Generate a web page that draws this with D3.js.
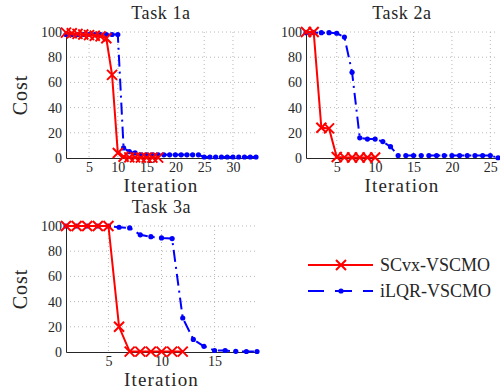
<!DOCTYPE html>
<html>
<head>
<meta charset="utf-8">
<script src="https://cdn.jsdelivr.net/npm/d3@7"></script>
<style>
  body { margin: 0; background: #fff; }
  text { font-family: "Liberation Serif", "Times New Roman", serif; fill: #262626; }
</style>
</head>
<body>
<div id="chart-area"></div>
<script>
// cost per iteration (iteration = index + 1)
const scvx1 = [99.5, 99, 98.5, 98, 97.5, 97, 96.5, 95, 66, 4, 1, 0.5, 0.5, 0.3, 0.3, 0.3, 0.3];
const ilqr1 = [98, 98, 98, 98, 98, 98, 98, 98, 98, 98, 8, 5, 4,
  2.5, 2.5, 2.5, 2.5, 2.5, 2.5, 2.5, 2.5, 2.5, 2.5, 2.5,
  0.8, 0.8, 0.8, 0.8, 0.8, 0.8, 0.8, 0.8, 0.8, 0.8];

const scvx2 = [100, 100, 24, 23.5, 0.8, 0.5, 0.4, 0.4, 0.4, 0.4];
const ilqr2 = [99.5, 99.5, 99.5, 99.5, 99, 96, 68, 16, 15, 15, 13, 9,
  2, 2, 2, 2, 2, 2, 2, 2, 2, 2, 2, 2, 2, 0.2];

const scvx3 = [100, 100, 100, 100, 100, 20, 0.3, 0.3, 0.3, 0.3, 0.3, 0.3];
const ilqr3 = [100, 100, 100, 100, 100, 99, 98.5, 93, 91.5, 90.5, 90, 27, 10, 4.5, 1.2, 1.2, 0.5, 0.4, 0.4];

const titles = ["Task 1a", "Task 2a", "Task 3a"];
const xMax = [34, 26, 19];
const xTicks = [[5, 10, 15, 20, 25, 30], [5, 10, 15, 20, 25], [5, 10, 15]];
const yTicks = [0, 20, 40, 60, 80, 100];
const seriesNames = ["SCvx-VSCMO", "iLQR-VSCMO"];

const red = "#ff0000";
const blue = "#0000ff";
const blueDash = "12,5,2,5";

const svg = d3.select("#chart-area").append("svg")
  .attr("width", 500)
  .attr("height", 390);

// plot boxes
const panels = [
  {left: 66, top: 32, width: 190, height: 126, scvx: scvx1, ilqr: ilqr1},
  {left: 306, top: 32, width: 192, height: 126, scvx: scvx2, ilqr: ilqr2},
  {left: 66, top: 226, width: 191, height: 126, scvx: scvx3, ilqr: ilqr3}
];

function xMark(sel, size) {
  sel.append("path")
    .attr("d", `M${-size},${-size}L${size},${size}M${-size},${size}L${size},${-size}`)
    .attr("stroke", red)
    .attr("stroke-width", 2)
    .attr("fill", "none");
}

panels.forEach((p, i) => {
  const g = svg.append("g")
    .attr("transform", `translate(${p.left}, ${p.top})`);

  const x = d3.scaleLinear()
    .domain([1, xMax[i]])
    .range([0, p.width]);

  const y = d3.scaleLinear()
    .domain([0, 100])
    .range([p.height, 0]);

  // dotted grid
  g.append("g").selectAll("line").data(xTicks[i]).enter().append("line")
    .attr("x1", d => x(d)).attr("x2", d => x(d))
    .attr("y1", 0).attr("y2", p.height)
    .attr("stroke", "#b8b8b8")
    .attr("stroke-dasharray", "1,3");
  g.append("g").selectAll("line").data(yTicks.slice(1)).enter().append("line")
    .attr("x1", 0).attr("x2", p.width)
    .attr("y1", d => y(d)).attr("y2", d => y(d))
    .attr("stroke", "#b8b8b8")
    .attr("stroke-dasharray", "1,3");

  // axes
  const xAxisCall = d3.axisBottom(x).tickValues(xTicks[i]).tickSize(0).tickPadding(4);
  const xAxis = g.append("g")
    .attr("transform", `translate(0, ${p.height})`)
    .call(xAxisCall);
  const yAxisCall = d3.axisLeft(y).tickValues(yTicks).tickSize(0).tickPadding(4);
  const yAxis = g.append("g").call(yAxisCall);
  [xAxis, yAxis].forEach(a => {
    a.attr("font-family", null);
    a.select(".domain").attr("stroke", "#262626").attr("stroke-width", 1);
    a.selectAll("text").attr("font-size", "14px").style("fill", "#262626");
  });

  // labels
  g.append("text")
    .attr("x", p.width / 2)
    .attr("y", -13)
    .attr("text-anchor", "middle")
    .attr("font-size", "18px")
    .attr("letter-spacing", "0.6px")
    .text(titles[i]);

  g.append("text")
    .attr("x", p.width / 2)
    .attr("y", p.height + 34)
    .attr("text-anchor", "middle")
    .attr("font-size", "19px")
    .attr("letter-spacing", "1.2px")
    .text("Iteration");

  if (i !== 1) {
    g.append("text")
      .attr("transform", `translate(${20 - p.left}, ${p.height / 2}) rotate(-90)`)
      .attr("text-anchor", "middle")
      .attr("dy", "0.35em")
      .attr("font-size", "20px")
      .attr("letter-spacing", "1px")
      .text("Cost");
  }

  const line = d3.line()
    .x((d, k) => x(k + 1))
    .y(d => y(d));

  // iLQR: dash-dot with dot markers
  g.append("path")
    .datum(p.ilqr)
    .attr("d", line)
    .attr("fill", "none")
    .attr("stroke", blue)
    .attr("stroke-width", 2)
    .attr("stroke-dasharray", blueDash);
  g.selectAll(".dot").data(p.ilqr).enter().append("circle")
    .attr("class", "dot")
    .attr("cx", (d, k) => x(k + 1))
    .attr("cy", d => y(d))
    .attr("r", 2.6)
    .attr("fill", blue);

  // SCvx: solid with x markers
  g.append("path")
    .datum(p.scvx)
    .attr("d", line)
    .attr("fill", "none")
    .attr("stroke", red)
    .attr("stroke-width", 2);
  p.scvx.forEach((d, k) => {
    g.append("g")
      .attr("transform", `translate(${x(k + 1)}, ${y(d)})`)
      .call(xMark, 5);
  });
});

// legend
const legend = svg.append("g");
const legendRows = [{y: 265, color: red}, {y: 291, color: blue}];
legendRows.forEach((r, i) => {
  legend.append("line")
    .attr("x1", 308).attr("x2", 373)
    .attr("y1", r.y).attr("y2", r.y)
    .attr("stroke", r.color)
    .attr("stroke-width", 2)
    .attr("stroke-dasharray", i === 1 ? "16,11,5,3,9,11" : null);
  if (i === 0) {
    legend.append("g").attr("transform", `translate(341, ${r.y})`).call(xMark, 5);
  } else {
    legend.append("circle").attr("cx", 341).attr("cy", r.y).attr("r", 2.6).attr("fill", blue);
  }
  legend.append("text")
    .attr("x", 380)
    .attr("y", r.y)
    .attr("dy", "0.35em")
    .attr("font-size", "18px")
    .text(seriesNames[i]);
});
</script>
</body>
</html>
